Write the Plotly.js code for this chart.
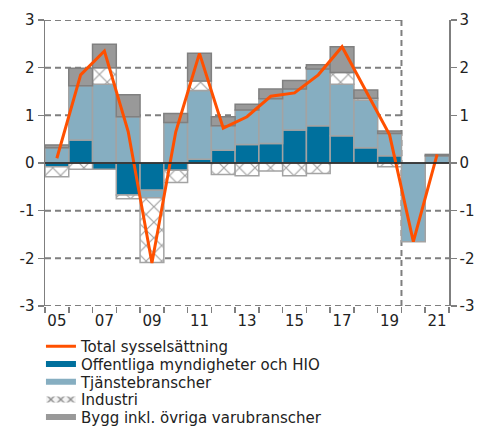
<!DOCTYPE html>
<html><head><meta charset="utf-8">
<script src="https://cdn.plot.ly/plotly-3.0.1.min.js"></script>
<style>html,body{margin:0;padding:0;background:#fff}</style>
</head><body><div id="chart" style="width:489px;height:427px"></div>
<script>
// Data (percentage points)
const years = [2005,2006,2007,2008,2009,2010,2011,2012,2013,2014,2015,2016,2017,2018,2019,2020,2021];
const labelYears = [2005,2007,2009,2011,2013,2015,2017,2019,2021];
const labelText = ['05','07','09','11','13','15','17','19','21'];
const yTicks = [-3,-2,-1,0,1,2,3];
const yTickText = ['-3','-2','-1','0','1','2','3'];
const forecastStart = 2019.5;

const totalEmployment = [0.10,1.85,2.35,0.66,-2.10,0.65,2.30,0.73,0.97,1.40,1.47,1.85,2.44,1.52,0.59,-1.65,0.18];
const publicSector    = [-0.08,0.48,-0.13,-0.67,-0.57,-0.15,0.08,0.27,0.39,0.41,0.69,0.78,0.57,0.32,0.15,null,null];
const services        = [0.32,1.14,1.65,0.97,-0.16,0.85,1.44,0.51,0.72,0.94,0.86,1.19,1.08,1.00,0.47,-1.65,0.15];
const industry        = [-0.21,-0.13,0.35,-0.08,-1.36,-0.26,0.20,-0.24,-0.27,-0.17,-0.27,-0.22,0.25,0.04,-0.08,null,null];
const construction    = [0.06,0.37,0.49,0.46,null,0.19,0.58,0.19,0.12,0.20,0.18,0.09,0.54,0.17,0.05,null,0.03];

const names = ['Total sysselsättning','Offentliga myndigheter och HIO','Tjänstebranscher','Industri','Bygg inkl. övriga varubranscher'];

const FONT = 'DejaVu Sans, Verdana, sans-serif';
const borderCol = '#a3a3a3';
const colOff = '#00709d', colServ = '#86aec1', colBygg = '#999999';
const xMin = years[0]-0.5, xMax = years[years.length-1]+0.5;
const hatch = {shape:'x', fgcolor:'#a0a0a0', bgcolor:'#ffffff', size:11, solidity:0.2, fillmode:'replace'};

const data = [
  {type:'bar', x:years, y:publicSector, name:names[1], showlegend:false,
   marker:{color:colOff, line:{color:borderCol, width:1.5}}},
  {type:'bar', x:years, y:services, name:names[2], showlegend:false,
   marker:{color:colServ, line:{color:borderCol, width:1.5}}},
  {type:'bar', x:years, y:industry, name:names[3], showlegend:false,
   marker:{color:'#ffffff', line:{color:borderCol, width:1.5}, pattern:hatch}},
  {type:'bar', x:years, y:construction, name:names[4], showlegend:false,
   marker:{color:colBygg, line:{color:'#808080', width:1.5}}},
  {type:'scatter', mode:'lines', x:years, y:totalEmployment, name:names[0], legend:'legend',
   line:{color:'#ff5000', width:3}},
  // legend-only proxies for the bar series (flat rectangle symbols)
  {type:'scatter', x:[null], y:[null], mode:'none', fill:'toself', fillcolor:colOff, name:names[1], legend:'legend2', hoverinfo:'skip'},
  {type:'scatter', x:[null], y:[null], mode:'none', fill:'toself', fillcolor:colServ, name:names[2], legend:'legend3', hoverinfo:'skip'},
  {type:'scatter', x:[null], y:[null], mode:'none', fill:'toself', fillcolor:'#ffffff',
   fillpattern:{shape:'x', fgcolor:'#8c8c8c', bgcolor:'#f4f4f4', size:7, solidity:0.35}, name:names[3], legend:'legend4', hoverinfo:'skip'},
  {type:'scatter', x:[null], y:[null], mode:'none', fill:'toself', fillcolor:colBygg, name:names[4], legend:'legend5', hoverinfo:'skip'},
  // invisible point to activate the right-hand axis
  {type:'scatter', x:[years[0]], y:[0], yaxis:'y2', showlegend:false, hoverinfo:'skip', mode:'markers', marker:{opacity:0}}
];

const shapes = [];
yTicks.forEach(v => {
  if (v === 0) return;
  shapes.push({type:'line', layer:'below', xref:'x', yref:'y',
    x0:xMin, x1:(v>0 ? forecastStart : xMax), y0:v, y1:v,
    line:{color:'#7f7f7f', width:2, dash:'6px,4px'}});
});
shapes.push({type:'line', layer:'below', xref:'x', yref:'y',
  x0:forecastStart, x1:forecastStart, y0:yTicks[0], y1:yTicks[yTicks.length-1],
  line:{color:'#7f7f7f', width:2, dash:'6px,4px'}});
shapes.push({type:'line', layer:'above', xref:'x', yref:'y',
  x0:xMin, x1:xMax, y0:0, y1:0, line:{color:'#1a1a1a', width:1.5}});

const yAxisCommon = {range:[-3,3], tickmode:'array', tickvals:yTicks, ticktext:yTickText,
  ticks:'outside', ticklen:6, tickwidth:1.5,
  tickcolor:'#7f7f7f', showline:true, linecolor:'#7f7f7f', linewidth:1.5,
  showgrid:false, zeroline:false, tickfont:{family:FONT, size:15, color:'#222'}, fixedrange:true};

function legendAt(rowCenterPx) {
  return {xref:'paper', yref:'container', x:-0.01, xanchor:'left',
          y:1 - rowCenterPx/427, yanchor:'middle', itemwidth:30,
          font:{family:FONT, size:15, color:'#222'}, bgcolor:'rgba(0,0,0,0)', borderwidth:0};
}

const layout = {
  width:489, height:427,
  margin:{l:45, r:40, t:20, b:121},
  paper_bgcolor:'#fff', plot_bgcolor:'#fff',
  barmode:'relative', bargap:0,
  showlegend:true,
  legend:legendAt(346.5),
  legend2:legendAt(364.2),
  legend3:legendAt(382),
  legend4:legendAt(399.7),
  legend5:legendAt(417.3),
  xaxis:{range:[xMin,xMax], tickmode:'array', tickvals:labelYears, ticktext:labelText,
         ticks:'', ticklabelstandoff:4, showgrid:false, zeroline:false, showline:false,
         tickfont:{family:FONT, size:15, color:'#222'},
         minor:{tickmode:'array', tickvals:years.map(y=>y-0.5).concat([xMax]), ticks:'outside', ticklen:6, tickwidth:1.5, tickcolor:'#7f7f7f', showgrid:false}},
  yaxis:Object.assign({}, yAxisCommon, {side:'left'}),
  yaxis2:Object.assign({}, yAxisCommon, {side:'right', overlaying:'y'}),
  shapes:shapes
};

Plotly.newPlot('chart', data, layout, {staticPlot:true});
</script></body></html>
